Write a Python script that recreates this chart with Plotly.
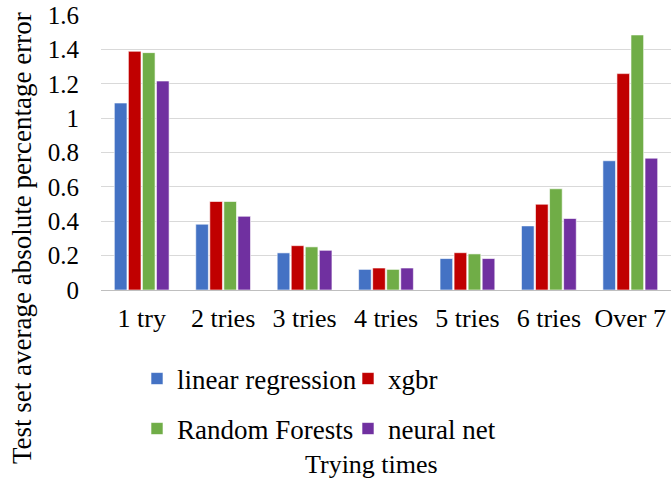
import plotly.graph_objects as go

categories = ["1 try", "2 tries", "3 tries", "4 tries", "5 tries", "6 tries", "Over 7"]
linear_regression = [1.088, 0.383, 0.216, 0.120, 0.183, 0.373, 0.752]
xgbr = [1.389, 0.515, 0.258, 0.128, 0.217, 0.499, 1.259]
random_forests = [1.381, 0.515, 0.251, 0.120, 0.210, 0.589, 1.484]
neural_net = [1.216, 0.429, 0.231, 0.128, 0.183, 0.416, 0.767]
y_ticks = [0, 0.2, 0.4, 0.6, 0.8, 1.0, 1.2, 1.4, 1.6]
y_tick_labels = ["0", "0.2", "0.4", "0.6", "0.8", "1", "1.2", "1.4", "1.6"]

FONT = "Liberation Serif"
series = [
    ("linear regression", linear_regression, "#4472C4", "legend"),
    ("xgbr", xgbr, "#C00000", "legend"),
    ("Random Forests", random_forests, "#70AD47", "legend2"),
    ("neural net", neural_net, "#7030A0", "legend2"),
]

fig = go.Figure()
for name, vals, color, leg in series:
    fig.add_trace(go.Bar(
        x=categories, y=vals, name=name, legend=leg,
        marker=dict(color=color, line=dict(color="rgba(255,255,255,0.6)", width=1)),
    ))

W, H = 672, 482
ml, mr, mt, mb = 101, 1, 15, 192
pw = W - ml - mr
ph = H - mt - mb

def px(x):
    return (x - ml) / pw

def py(y):
    return (H - mb - y) / ph

legend_common = dict(
    orientation="h", xanchor="left", yanchor="middle",
    font=dict(family=FONT, size=27, color="#000000"),
    entrywidthmode="pixels", entrywidth=166,
    bgcolor="rgba(0,0,0,0)", borderwidth=0,
    itemclick=False, itemdoubleclick=False,
)

fig.update_layout(
    width=W, height=H,
    margin=dict(l=ml, r=mr, t=mt, b=mb),
    paper_bgcolor="white", plot_bgcolor="white",
    barmode="group", bargap=0.31, bargroupgap=0.1,
    font=dict(family=FONT, size=24, color="#000000"),
    showlegend=True,
    legend=dict(x=px(137), y=py(379), **legend_common),
    legend2=dict(x=px(137), y=py(429), **legend_common),
    xaxis=dict(
        showgrid=False, showline=True, linecolor="#BFBFBF", linewidth=1,
        ticks="", tickfont=dict(family=FONT, size=26, color="#000000"),
        ticklabelstandoff=5,
    ),
    yaxis=dict(
        range=[0, 1.6], tickvals=y_ticks, ticktext=y_tick_labels,
        showgrid=True, gridcolor="#D9D9D9", gridwidth=1,
        zeroline=True, zerolinecolor="#BFBFBF", zerolinewidth=1,
        showline=False, ticks="",
        tickfont=dict(family=FONT, size=25, color="#000000"),
        ticklabelstandoff=21,
    ),
    annotations=[
        dict(text="Trying times", xref="paper", yref="paper",
             x=px(371), y=py(465), xanchor="center", yanchor="middle",
             showarrow=False, font=dict(family=FONT, size=26, color="#000000")),
        dict(text="Test set average absolute percentage error", xref="paper", yref="paper",
             x=px(22), y=py(238), xanchor="center", yanchor="middle", textangle=-90,
             showarrow=False, font=dict(family=FONT, size=27, color="#000000")),
    ],
)

fig.write_html("out.html")
